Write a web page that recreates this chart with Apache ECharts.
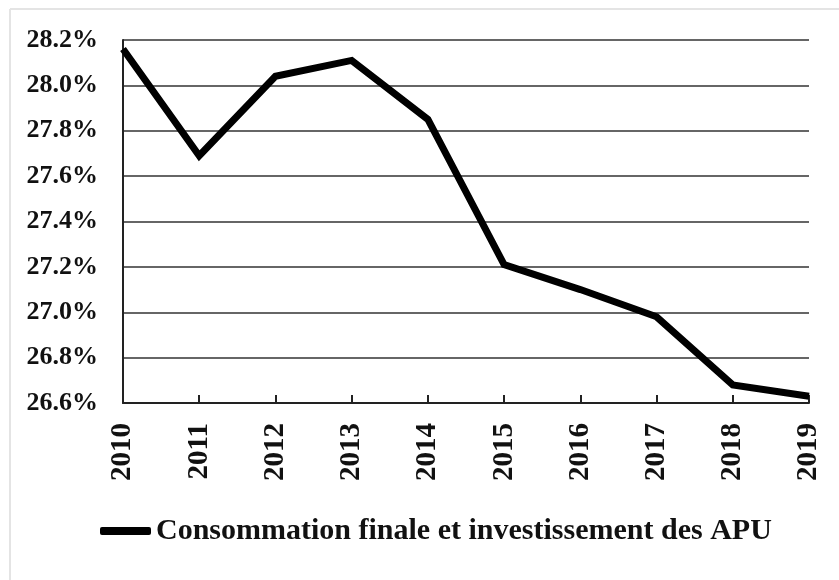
<!DOCTYPE html>
<html>
<head>
<meta charset="utf-8">
<script src="https://cdn.jsdelivr.net/npm/echarts@6/dist/echarts.min.js"></script>
<style>
  html, body { margin: 0; padding: 0; background: #fff; }
  #chart { width: 839px; height: 580px; }
</style>
</head>
<body>
<div id="chart"></div>
<script>
// data
var years = ['2010', '2011', '2012', '2013', '2014', '2015', '2016', '2017', '2018', '2019'];
var apuShare = [28.16, 27.69, 28.04, 28.11, 27.85, 27.21, 27.10, 26.98, 26.68, 26.63];
var seriesName = 'Consommation finale et investissement des APU';

var chart = echarts.init(document.getElementById('chart'));
var serif = '"Liberation Serif", "Times New Roman", serif';

chart.setOption({
    animation: false,
    backgroundColor: '#fff',
    // faint frame at left and top, like the scanned figure
    graphic: [
        {type: 'line', shape: {x1: 10, y1: 9, x2: 10, y2: 580}, style: {stroke: '#e4e4e4', lineWidth: 2}},
        {type: 'line', shape: {x1: 10, y1: 9, x2: 839, y2: 9}, style: {stroke: '#e4e4e4', lineWidth: 2}}
    ],
    grid: {
        left: 123,
        right: 30,
        top: 40,
        bottom: 177
    },
    legend: {
        left: 95,
        top: 511,
        data: [seriesName],
        itemWidth: 51,
        itemHeight: 8,
        icon: 'roundRect',
        textStyle: {
            fontFamily: serif,
            fontWeight: 'bold',
            fontSize: 30,
            color: '#111'
        }
    },
    xAxis: {
        type: 'category',
        boundaryGap: false,
        data: years,
        axisLine: {lineStyle: {color: '#222', width: 2}},
        axisTick: {inside: true, length: 8, lineStyle: {color: '#222', width: 2}},
        axisLabel: {
            rotate: 90,
            margin: 20,
            fontFamily: serif,
            fontWeight: 'bold',
            fontSize: 29,
            color: '#111'
        }
    },
    yAxis: {
        type: 'value',
        min: 26.6,
        max: 28.2,
        interval: 0.2,
        axisLine: {show: true, lineStyle: {color: '#222', width: 2}},
        axisTick: {show: false},
        splitLine: {lineStyle: {color: '#333', width: 1.5}},
        axisLabel: {
            margin: 25,
            fontFamily: serif,
            fontWeight: 'bold',
            fontSize: 26,
            color: '#111',
            formatter: function (v) { return v.toFixed(1) + '%'; }
        }
    },
    series: [
        {
            name: seriesName,
            type: 'line',
            data: apuShare,
            showSymbol: false,
            symbol: 'none',
            lineStyle: {color: '#000', width: 7, join: 'miter'},
            itemStyle: {color: '#000'}
        }
    ]
});
</script>
</body>
</html>
